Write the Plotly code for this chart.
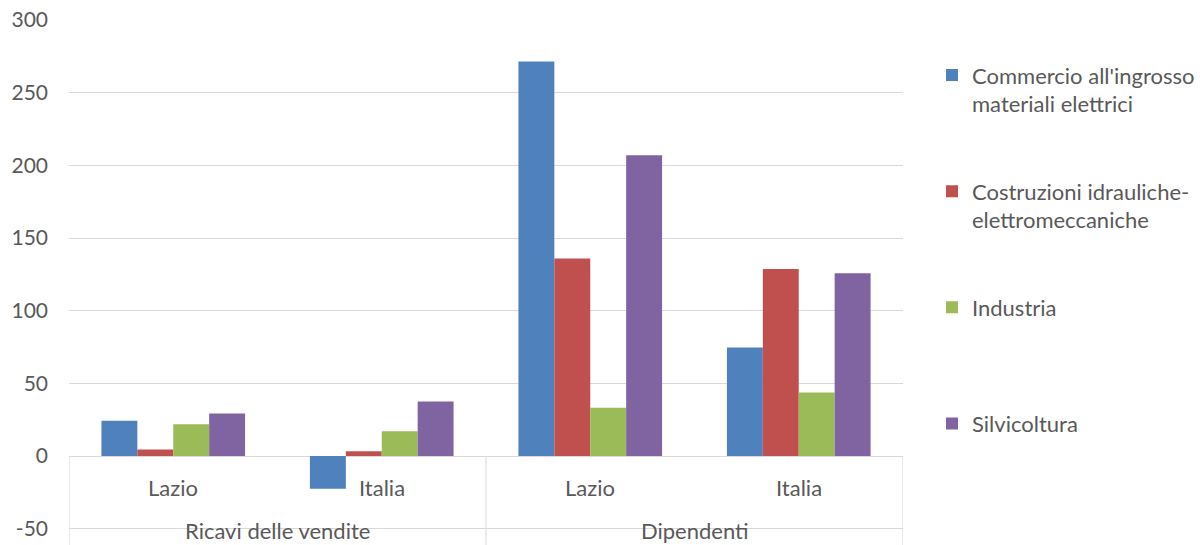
import plotly.graph_objects as go

groups = ["Ricavi delle vendite", "Ricavi delle vendite", "Dipendenti", "Dipendenti"]
regions = ["Lazio", "Italia", "Lazio", "Italia"]
series_names = [
    "Commercio all'ingrosso<br>materiali elettrici",
    "Costruzioni idrauliche-<br>elettromeccaniche",
    "Industria<br> ",
    "Silvicoltura",
]
commercio = [24.2, -22.5, 271.5, 74.6]
costruzioni = [4.5, 3.3, 135.9, 128.7]
industria = [21.8, 17.0, 33.3, 43.8]
silvicoltura = [29.2, 37.6, 206.9, 125.8]
y_ticks = [-50, 0, 50, 100, 150, 200, 250, 300]

colors = ["#4F81BD", "#C0504D", "#9BBB59", "#8064A2"]
values = [commercio, costruzioni, industria, silvicoltura]
xpos = list(range(len(regions)))

TXT = "#595959"
GRID = "#D9D9D9"
FONT = "Lato"
FS = 22

fig = go.Figure()
for i, (name, vals) in enumerate(zip(series_names, values)):
    fig.add_trace(go.Bar(
        x=xpos, y=vals, name=name,
        marker=dict(color=colors[i], line=dict(width=0)),
        legendgroup=f"g{i}",
    ))

ymin = -61.2
fig.update_layout(
    width=1200, height=545,
    margin=dict(l=68.7, r=295, t=20, b=0),
    paper_bgcolor="white", plot_bgcolor="white",
    font=dict(family=FONT, size=FS, color=TXT),
    barmode="group", bargap=0.311, bargroupgap=0,
    showlegend=True,
    legend=dict(
        x=1.035, xanchor="left", y=0.935, yanchor="top",
        font=dict(family=FONT, size=FS, color=TXT),
        tracegroupgap=56, valign="top",
        bgcolor="rgba(0,0,0,0)",
    ),
    xaxis=dict(
        range=[-0.5, len(regions) - 0.5],
        showticklabels=False, showgrid=False, zeroline=False,
        showline=False, ticks="", fixedrange=True,
    ),
    yaxis=dict(
        range=[ymin, 300],
        tickvals=y_ticks, ticktext=[str(v) for v in y_ticks],
        showgrid=True, gridcolor=GRID, gridwidth=1,
        zeroline=True, zerolinecolor=GRID, zerolinewidth=1,
        showline=False, ticks="", ticklabelstandoff=20,
        tickfont=dict(family=FONT, size=21, color=TXT),
    ),
)

# category axis box lines (at group boundaries and edges)
boundaries = [-0.5, 1.5, len(regions) - 0.5]
for b in boundaries:
    fig.add_shape(type="line", xref="x", yref="y", x0=b, x1=b, y0=0, y1=ymin,
                  line=dict(color=GRID, width=1))

# level 1 labels
for xi, r in zip(xpos, regions):
    fig.add_annotation(x=xi, y=-21.3, xref="x", yref="y", text=r, showarrow=False,
                       font=dict(family=FONT, size=FS, color=TXT), yanchor="middle")

# level 2 labels
seen = []
for g in groups:
    if g not in seen:
        seen.append(g)
for g in seen:
    idx = [i for i, gg in enumerate(groups) if gg == g]
    cx = sum(idx) / len(idx)
    fig.add_annotation(x=cx, y=ymin, xref="x", yref="y", text=g, showarrow=False,
                       font=dict(family=FONT, size=FS, color=TXT), yanchor="bottom",
                       borderpad=0)

fig.write_html("out.html")
